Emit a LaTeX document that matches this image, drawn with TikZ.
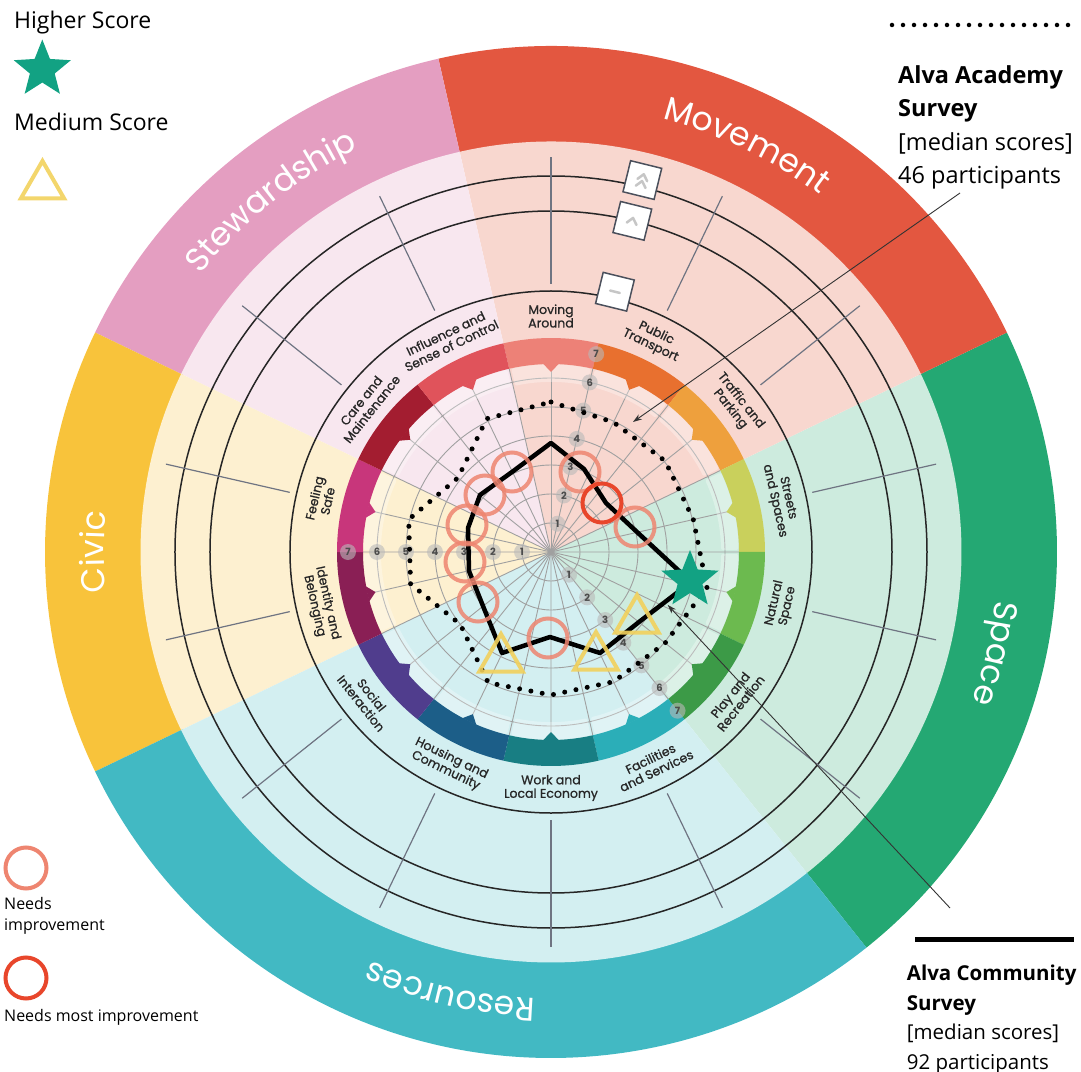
\documentclass[tikz,border=0pt]{standalone}
\usepackage{fontspec}
\setmainfont{Open Sans}
\newfontfamily\popfont{Poppins}
\newfontfamily\labfont{Poppins}[FakeBold=0.9]
\usetikzlibrary{shapes.geometric,decorations.text,arrows.meta,calc}

% theme colours (dark band / light sector)
\definecolor{movdark}{HTML}{E35740}
\definecolor{movlight}{HTML}{F8D7CF}
\definecolor{spacedark}{HTML}{24A873}
\definecolor{spacelight}{HTML}{CDEBDE}
\definecolor{resdark}{HTML}{42B9C3}
\definecolor{reslight}{HTML}{D3EFF1}
\definecolor{civdark}{HTML}{F8C33B}
\definecolor{civlight}{HTML}{FDF0D0}
\definecolor{stewdark}{HTML}{E49EC1}
\definecolor{stewlight}{HTML}{F8E7EF}
% ring colours, clockwise from Moving Around
\definecolor{rMA}{HTML}{ED8177}
\definecolor{rPT}{HTML}{E8702F}
\definecolor{rTP}{HTML}{EEA03D}
\definecolor{rSS}{HTML}{C9D05C}
\definecolor{rNS}{HTML}{6CBA4F}
\definecolor{rPR}{HTML}{3C9A47}
\definecolor{rFS}{HTML}{2BAEB8}
\definecolor{rWL}{HTML}{187E83}
\definecolor{rHC}{HTML}{1C5E88}
\definecolor{rSI}{HTML}{503D8D}
\definecolor{rIB}{HTML}{8A1F55}
\definecolor{rFE}{HTML}{C8367B}
\definecolor{rCM}{HTML}{A31D30}
\definecolor{rIS}{HTML}{E0535B}
% markers
\definecolor{needcol}{HTML}{EE8570}
\definecolor{mostcol}{HTML}{E8462B}
\definecolor{medcol}{HTML}{F2D15C}
\definecolor{highcol}{HTML}{12A283}
\definecolor{gridcol}{HTML}{A0A0A0}
\definecolor{tickcol}{HTML}{6F7482}
\definecolor{boxcol}{HTML}{4B505C}

\newcommand\catstyle{\popfont\fontsize{33}{33}\selectfont}

\begin{document}
\begin{tikzpicture}[x=1pt,y=1pt]
    % `needs' and `needsmost' are the red rings, `medium' the yellow triangles,
    % `higher' the green star, `badge' the grey score numbers.
    \tikzstyle{needs} = [draw=needcol,draw opacity=0.85,line width=4pt,circle,minimum size=39pt,inner sep=0pt]
    \tikzstyle{needsmost} = [needs,draw=mostcol,draw opacity=1]
    \tikzstyle{medium} = [draw=medcol,draw opacity=0.9,line width=4pt,regular polygon,regular polygon sides=3,minimum size=50pt,inner sep=0pt]
    \tikzstyle{higher} = [fill=highcol,star,star points=5,star point ratio=2.3,minimum size=60pt,inner sep=0pt]
    \tikzstyle{badge} = [circle,fill=gray!55,fill opacity=0.6,text opacity=1,text=black!70,inner sep=0pt,minimum size=16pt,font=\popfont\bfseries\fontsize{10}{10}\selectfont]
    \tikzstyle{sublabel} = [align=center,inner sep=0pt,text=black!85,font=\labfont\fontsize{12.5}{13.5}\selectfont]
    \tikzstyle{levelbox} = [draw=boxcol,fill=white,line width=1.5pt,minimum size=32pt,inner sep=0pt,rotate=-13.8]
    \tikzstyle{leader} = [draw=black!80,line width=0.9pt,-{Stealth[length=9pt,width=6pt]}]
    \tikzstyle{legtext} = [anchor=north west,inner sep=0pt,align=left]
    \tikzstyle{dots} = [line width=5pt,line cap=round,dash pattern=on 0pt off 11.5pt]
    %
    \useasboundingbox (-551,-519) rectangle (530,552);
    % outer band and light sectors
    \foreach \a/\b/\dark/\light in {-51.43/25.71/spacedark/spacelight,25.71/102.86/movdark/movlight,102.86/154.29/stewdark/stewlight,154.29/205.71/civdark/civlight,205.71/308.57/resdark/reslight}{
      \fill[\dark] (\a:409) arc[start angle=\a,end angle=\b,radius=409] -- (\b:506) arc[start angle=\b,end angle=\a,radius=506] -- cycle;
      \fill[\light] (0,0) -- (\a:410.5) arc[start angle=\a,end angle=\b,radius=410.5] -- cycle;
    }
    % level circles and ticks
    \foreach \r in {261,341,376}
      \draw[black!85,line width=1.5pt] (0,0) circle[radius=\r];
    \foreach \i in {0,...,13}
      \draw[tickcol,line width=1.2pt] ({90-\i*25.7143}:268) -- ({90-\i*25.7143}:395);
    % sub-theme labels
    \foreach \t [count=\i from 0] in {{Moving\\Around},{Public\\Transport},{Traffic and\\Parking},{Streets\\and Spaces},{Natural\\Space},{Play and\\Recreation},{Facilities\\and Services},{Work and\\Local Economy},{Housing and\\Community},{Social\\Interaction},{Identity and\\Belonging},{Feeling\\Safe},{Care and\\Maintenance},{Influence and\\Sense of Control}}{
      \pgfmathsetmacro\ang{mod(90-\i*25.7143+540,360)-180}
      \pgfmathsetmacro\rot{ifthenelse(\ang>0,\ang-90,\ang+90)}
      \node[sublabel,rotate=\rot] (lab\i) at (\ang:236) {\t};
    }
    % radar grid
    \foreach \k in {1,...,6}
      \draw[gridcol,line width=0.9pt] (0,0) circle[radius=29*\k];
    \foreach \i in {0,...,27}
      \draw[gridcol,line width=0.9pt] (0,0) -- ({90+\i*12.857}:188);
    % coloured ring with tabs
    \foreach \col [count=\i from 0] in {rMA,rPT,rTP,rSS,rNS,rPR,rFS,rWL,rHC,rSI,rIB,rFE,rCM,rIS}{
      \pgfmathsetmacro\c{90-\i*25.7143}
      \fill[\col] ({\c-12.86}:188) arc[start angle=\c-12.86,end angle=\c+12.86,radius=188] -- ({\c+12.86}:214) arc[start angle=\c+12.86,end angle=\c-12.86,radius=214] -- cycle;
      \fill[white,opacity=0.3,rounded corners=2pt] ({\c-12.2}:170) arc[start angle=\c-12.2,end angle=\c+12.2,radius=170] -- ({\c+12.2}:187.5) arc[start angle=\c+12.2,end angle=\c-12.2,radius=187.5] -- cycle;
      \fill[\col] ({\c-2.4}:188.5) -- (\c:180) -- ({\c+2.4}:188.5) -- cycle;
    }
    % score numbers
    \foreach \ang/\ax in {77.143/a,180/b,-51.429/c}
      \foreach \k in {1,...,7}
        \node[badge] (num\ax\k) at ({\ang}:{29*\k}) {\k};
    %
    % academy survey (dotted)
    \foreach \r [count=\i from 0] in {150,144,146,146,160,146,144,143,145,116,144,146,119,148}
      \coordinate (a\i) at ({90-\i*25.7143}:\r);
    \draw[dots] (a0) \foreach \i in {1,...,13}{ -- (a\i)} -- cycle;
    % community survey (solid)
    \coordinate (c0) at (0,109);   \coordinate (c1) at (33,83);
    \coordinate (c2) at (55,49);   \coordinate (c3) at (86,20);
    \coordinate (c4) at (140,-30); \coordinate (c5) at (88,-70);
    \coordinate (c6) at (49,-101); \coordinate (c7) at (-1,-85);
    \coordinate (c8) at (-49,-101);\coordinate (c9) at (-68,-54);
    \coordinate (c10) at (-82,-19);\coordinate (c11) at (-83,24);
    \coordinate (c12) at (-71,57); \coordinate (c13) at (-39,80);
    \draw[line width=4.5pt,line join=round] (c0) \foreach \i in {1,...,13}{ -- (c\i)} -- cycle;
    %
    % markers
    \node[needs] (mark0) at (-39,80) {};
    \node[needs] (mark1) at (-66,57) {};
    \node[needs] (mark2) at (-84,27) {};
    \node[needs] (mark3) at (-86,-10) {};
    \node[needs] (mark4) at (-73,-50) {};
    \node[needs] (mark5) at (-3,-86) {};
    \node[needs] (mark6) at (29,80) {};
    \node[needs] (mark7) at (84,25) {};
    \node[needsmost] (mark8) at (51,49) {};
    \node[medium] (tri1) at (-50,-107) {};
    \node[medium] (tri2) at (45,-105) {};
    \node[medium] (tri3) at (86,-68) {};
    \node[higher] (star1) at (139,-28) {};
    %
    % level boxes
    \node[levelbox] (box0) at (76.2:383) {};
    \node[levelbox] (box1) at (76.2:341) {};
    \node[levelbox] (box2) at (76.2:268) {};
    \begin{scope}[gray!45,line width=2.5pt,line cap=round,line join=round]
      \draw[shift={(box0.center)},rotate=-13.8] (-5,0) -- (0,6) -- (5,0) (-5,-7) -- (0,-1) -- (5,-7);
      \draw[shift={(box1.center)},rotate=-13.8] (-5,-3) -- (0,3) -- (5,-3);
      \draw[shift={(box2.center)},rotate=-13.8] (-5,0) -- (5,0);
    \end{scope}
    %
    % theme names
    \path[decorate,decoration={text along path,text={|\catstyle|Movement},text align=center,text color=white}] (102.86:447) arc[start angle=102.86,end angle=25.71,radius=447];
    \path[decorate,decoration={text along path,text={|\catstyle|Space},text align=center,text color=white}] (25.71:447) arc[start angle=25.71,end angle=-51.43,radius=447];
    \path[decorate,decoration={text along path,text={|\catstyle|Resources},text align=center,text color=white}] (308.57:447) arc[start angle=308.57,end angle=205.71,radius=447];
    \path[decorate,decoration={text along path,text={|\catstyle|Civic},text align=center,text color=white}] (205.71:447) arc[start angle=205.71,end angle=154.29,radius=447];
    \path[decorate,decoration={text along path,text={|\catstyle|Stewardship},text align=center,text color=white}] (154.29:447) arc[start angle=154.29,end angle=102.86,radius=447];
    %
    % legend
    \node[legtext,font=\fontsize{23}{28}\selectfont] (hightext) at (-537,541.5) {Higher Score};
    \node[higher] (star0) at (-508.7,482.5) {};
    \node[legtext,font=\fontsize{23}{28}\selectfont] (medtext) at (-537,439.5) {Medium Score};
    \node[medium] (tri0) at (-508.5,366) {};
    \node[needs,minimum size=41pt,draw opacity=1] (legneed) at (-525,-316) {};
    \node[legtext,font=\fontsize{16}{21}\selectfont] (needtext) at (-547,-345) {Needs\\improvement};
    \node[needsmost,minimum size=41pt] (legmost) at (-525,-426) {};
    \node[legtext,font=\fontsize{16}{21}\selectfont] (mosttext) at (-547,-457) {Needs most improvement};
    %
    \coordinate (dotL) at (341,527);
    \coordinate (dotR) at (521,527);
    \draw[dots,dash pattern=on 0pt off 11pt,line width=4.5pt] (dotL) -- (dotR);
    \node[legtext,font=\fontsize{23.5}{33.5}\selectfont] (acad) at (347,487) {\textbf{Alva Academy}\\\textbf{Survey}\\{[median scores]}\\46 participants};
    \coordinate (lineL) at (364,-387);
    \coordinate (lineR) at (523,-387);
    \draw[line width=5pt] (lineL) -- (lineR);
    \node[legtext,font=\fontsize{20.5}{29.5}\selectfont] (comm) at (355.7,-413) {\textbf{Alva Community}\\\textbf{Survey}\\{[median scores]}\\92 participants};
    % leader lines
    \coordinate (acadend) at (409,359);
    \coordinate (acadtip) at (82,130);
    \draw[leader] (acadend) -- (acadtip);
    \coordinate (commend) at (399,-356);
    \draw[leader,shorten >=4pt] (commend) -- ($(c4)!0.5!(c5)$);
\end{tikzpicture}
\end{document}
